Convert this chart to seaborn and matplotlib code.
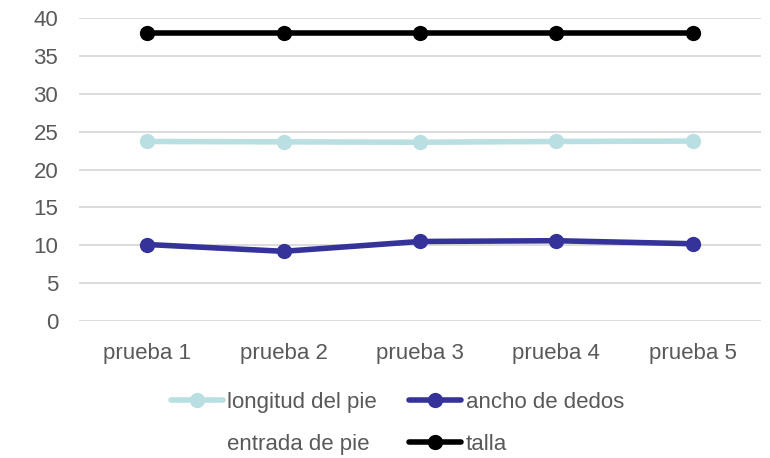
import matplotlib
matplotlib.use("Agg")
import matplotlib.pyplot as plt
from matplotlib.lines import Line2D
import seaborn as sns
import pandas as pd

# Measurements per trial
pruebas = ["prueba 1", "prueba 2", "prueba 3", "prueba 4", "prueba 5"]
longitud_del_pie = [23.7, 23.65, 23.6, 23.7, 23.75]
ancho_de_dedos = [10.1, 9.2, 10.5, 10.6, 10.2]
entrada_de_pie = [None, None, None, None, None]
talla = [38, 38, 38, 38, 38]
y_ticks = [0, 5, 10, 15, 20, 25, 30, 35, 40]

series = [
    ("longitud del pie", longitud_del_pie, "#B9DFE2"),
    ("ancho de dedos", ancho_de_dedos, "#35339A"),
    ("entrada de pie", entrada_de_pie, "none"),
    ("talla", talla, "#000000"),
]

LW = 4.0
MS = 11

sns.set_theme(style="white")
plt.rcParams["font.family"] = ["Liberation Sans", "DejaVu Sans"]

fig = plt.figure(figsize=(7.7, 4.58), dpi=100)
ax = fig.add_axes([0.1026, 0.2991, 0.8854, 0.6616])

handles = {}
for name, values, color in series:
    if all(v is None for v in values):
        handles[name] = Line2D([], [], color="none", lw=0)
        continue
    df = pd.DataFrame({"prueba": pruebas, "valor": values})
    sns.lineplot(data=df, x="prueba", y="valor", ax=ax, color=color,
                 linewidth=LW, marker="o", markersize=MS,
                 markeredgewidth=0, sort=False, legend=False)
    handles[name] = Line2D([], [], color=color, lw=LW, marker="o",
                           markersize=MS, markeredgewidth=0)

ax.set_xlim(-0.5, len(pruebas) - 0.5)
ax.set_ylim(0, 40)
ax.set_yticks(y_ticks)
ax.set_xlabel("")
ax.set_ylabel("")
ax.grid(axis="y", color="#D9D9D9", linewidth=1.3)
ax.grid(axis="x", visible=False)
ax.set_axisbelow(True)
for s in ax.spines.values():
    s.set_visible(False)
ax.tick_params(axis="both", length=0, labelsize=16, labelcolor="#595959")
ax.tick_params(axis="x", pad=16)
ax.tick_params(axis="y", pad=15)

order = ["longitud del pie", "entrada de pie", "ancho de dedos", "talla"]
leg = fig.legend([handles[n] for n in order], order, ncol=2,
                 loc="center", bbox_to_anchor=(0.516, 0.076), frameon=False,
                 fontsize=16, handlelength=2.35, handletextpad=0.2,
                 columnspacing=1.45, labelspacing=0.95)
for t in leg.get_texts():
    t.set_color("#595959")

fig.savefig("out.png", dpi=100, facecolor="white")
